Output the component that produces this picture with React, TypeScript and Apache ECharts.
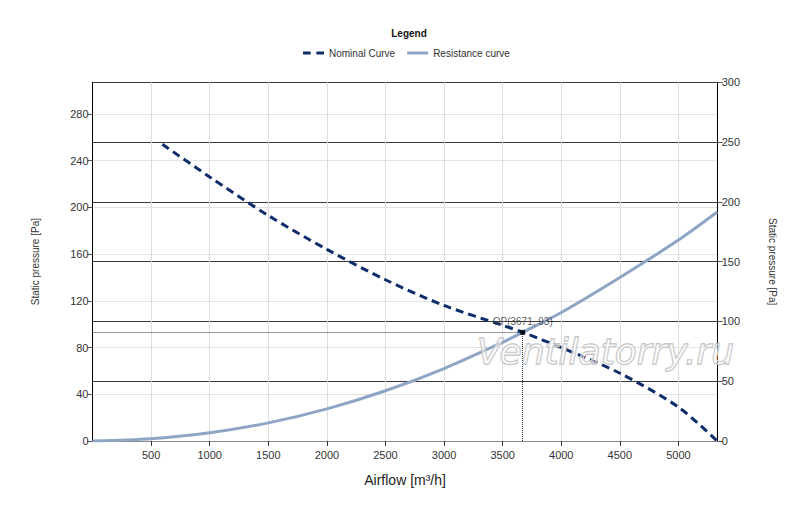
import React, { useEffect, useRef } from "react";
import * as echarts from "echarts";

const nominalAirflow = [596, 1000, 1500, 2000, 2500, 3000, 3500, 3671, 4000, 4500, 5000, 5330];
const nominalPressure = [254, 226, 193, 164, 138, 116, 99, 93, 80, 58, 29, 0];

const resistanceAirflow = [0, 500, 1000, 1500, 2000, 2500, 3000, 3500, 3671, 4000, 4500, 5000, 5330];
const resistancePressure = [0, 2, 7, 15.5, 27.5, 43, 62, 84.5, 93, 110, 140, 172, 196];

const operatingPoint = [3671, 93];

const xMax = 5335;
const leftMax = 307;
const rightMax = 300;

export default function App() {
  const ref = useRef<HTMLDivElement>(null);
  useEffect(() => {
    if (!ref.current) return;
    const chart = echarts.init(ref.current, null, { renderer: "svg" });
    const font = "Liberation Sans, Arial, sans-serif";
    const nominal = nominalAirflow.map((q, i) => [q, nominalPressure[i]]);
    const resistance = resistanceAirflow.map((q, i) => [q, resistancePressure[i]]);
    const plain = (v: number) => String(v);
    chart.setOption({
      animation: false,
      backgroundColor: "#ffffff",
      textStyle: { fontFamily: font },
      title: {
        text: "Legend",
        left: 404,
        top: 23,
        textAlign: "center",
        textStyle: { fontSize: 10, fontWeight: "bold", color: "#111", fontFamily: font },
      },
      legend: {
        data: [
          { name: "Nominal Curve", icon: "path://M0,0h8v3h-8z M14,0h8v3h-8z" },
          { name: "Resistance curve", icon: "rect" },
        ],
        left: 298,
        top: 43,
        itemWidth: 21,
        itemHeight: 3,
        itemGap: 12,
        textStyle: { fontSize: 10, color: "#333", fontFamily: font },
      },
      grid: { left: 92.5, right: 82.3, top: 82.3, bottom: 66, containLabel: false },
      xAxis: {
        type: "value",
        min: 0,
        max: xMax,
        interval: 500,
        name: "Airflow [m³/h]",
        nameLocation: "middle",
        nameGap: 32,
        nameTextStyle: { fontSize: 14, color: "#222", fontFamily: font },
        axisLine: { show: true, lineStyle: { color: "#888", width: 1 } },
        axisTick: { show: true, length: 5, lineStyle: { color: "#333" } },
        axisLabel: { showMinLabel: false, showMaxLabel: false, fontSize: 11, color: "#333", margin: 8, formatter: plain },
        splitLine: { show: true, lineStyle: { color: "#dddddd", width: 1 } },
      },
      yAxis: [
        {
          type: "value",
          position: "left",
          min: 0,
          max: leftMax,
          interval: 40,
          name: "Static pressure [Pa]",
          nameLocation: "middle",
          nameGap: 52,
          nameTextStyle: { fontSize: 10, color: "#333", fontFamily: font },
          axisLine: { show: true, lineStyle: { color: "#000", width: 1 } },
          axisTick: { show: true, length: 5, lineStyle: { color: "#555" } },
          axisLabel: { showMaxLabel: false, fontSize: 11, color: "#333", margin: 4, formatter: plain },
          splitLine: { show: true, lineStyle: { color: "#e4e4e4", width: 1 } },
        },
        {
          type: "value",
          position: "right",
          min: 0,
          max: rightMax,
          interval: 50,
          name: "Static pressure [Pa]",
          nameLocation: "middle",
          nameGap: 50,
          nameRotate: -90,
          nameTextStyle: { fontSize: 10, color: "#333", fontFamily: font },
          axisLine: { show: true, lineStyle: { color: "#000", width: 1 } },
          axisTick: { show: true, length: 5, lineStyle: { color: "#555" } },
          axisLabel: { fontSize: 11, color: "#333", margin: 4, formatter: plain },
          splitLine: { show: true, lineStyle: { color: "#3a3a3a", width: 1 } },
        },
      ],
      series: [
        {
          name: "Nominal Curve",
          type: "line",
          yAxisIndex: 0,
          data: nominal,
          smooth: 0.3,
          symbol: "none",
          lineStyle: { color: "#0e2d6b", width: 3, type: [8, 5] },
          itemStyle: { color: "#0e2d6b" },
          z: 5,
        },
        {
          name: "Resistance curve",
          type: "line",
          yAxisIndex: 0,
          data: resistance,
          smooth: 0.3,
          symbol: "none",
          lineStyle: { color: "#8fa5c6", width: 3 },
          itemStyle: { color: "#8fa5c6" },
          z: 4,
        },
        {
          name: "OP",
          type: "scatter",
          yAxisIndex: 0,
          data: [operatingPoint],
          symbol: "rect",
          symbolSize: 5,
          itemStyle: { color: "#000" },
          z: 6,
          label: {
            show: true,
            position: "top",
            distance: 3,
            formatter: () => `OP(${operatingPoint[0]}, ${operatingPoint[1]})`,
            fontSize: 10,
            color: "#333",
            fontFamily: font,
          },
          markLine: {
            silent: true,
            symbol: "none",
            label: { show: false },
            lineStyle: { color: "#333", type: "dotted", width: 1 },
            data: [
              [{ coord: [0, operatingPoint[1]] }, { coord: [operatingPoint[0], operatingPoint[1]] }],
              [{ coord: [operatingPoint[0], 0] }, { coord: [operatingPoint[0], operatingPoint[1]] }],
            ],
          },
        },
      ],
      graphic: [
        {
          type: "text",
          x: 477,
          y: 351,
          z: 100,
          style: {
            text: "Ventilatorry.ru",
            font: "italic 36px DejaVu Sans, sans-serif",
            align: "left",
            verticalAlign: "middle",
            fill: "rgba(255,255,255,0.45)",
            stroke: "#bdbdbd",
            lineWidth: 1.3,
          },
        },
      ],
    });
    return () => chart.dispose();
  }, []);
  return (
    <div
      ref={ref}
      style={{ position: "fixed", left: 0, top: 0, width: 800, height: 507 }}
    />
  );
}
